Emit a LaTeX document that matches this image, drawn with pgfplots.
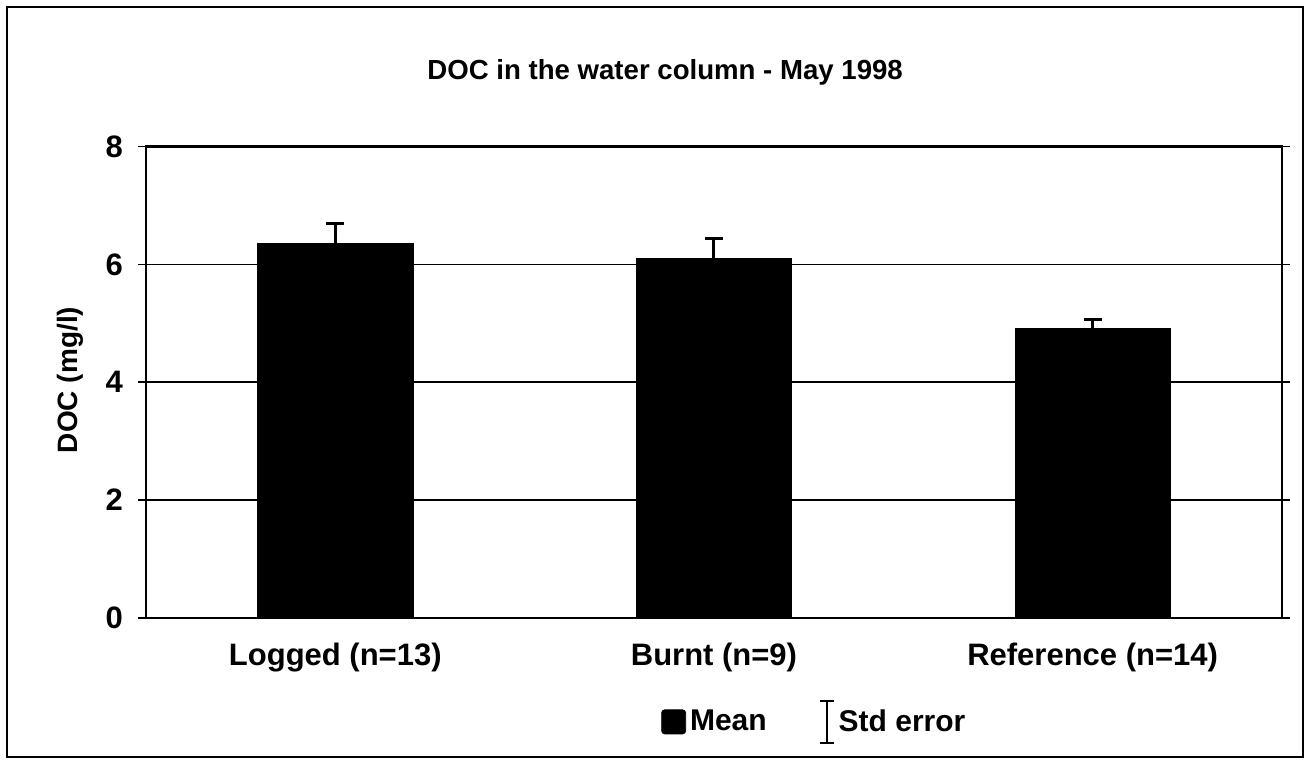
\documentclass[border=0pt]{standalone}
\usepackage{fontspec}
\setmainfont{Liberation Sans}
\usepackage{pgfplots}
\pgfplotsset{compat=1.18}

\pgfplotstableread{
x  y     e
0  6.36  0.33
1  6.10  0.34
2  4.91  0.16
}\doc

\begin{document}
\begin{tikzpicture}
\begin{axis}[
  scale only axis,
  width=568bp, height=235.6bp,
  xmin=-0.5, xmax=2.5,
  ymin=0, ymax=8,
  ytick={0,2,4,6,8},
  xtick={0,1,2},
  xticklabels={Logged (n=13), Burnt (n=9), Reference (n=14)},
  major x tick style={draw=none},
  extra x ticks={0.5,1.5},
  extra x tick labels={},
  extra x tick style={tick align=outside, major tick length=4bp, major tick style={black, line width=0.8bp}},
  ytick align=outside,
  major tick length=4bp,
  tick style={black, line width=0.8bp},
  ymajorgrids,
  major grid style={black, line width=0.8bp},
  axis line style={line width=1.2bp},
  /pgf/number format/assume math mode=true,
  tick label style={font=\fontsize{15.5bp}{18bp}\selectfont\bfseries},
  xticklabel style={yshift=-9bp},
  yticklabel style={xshift=-4bp},
  ylabel={DOC (mg/l)},
  ylabel style={at={(axis description cs:-0.067,0.505)}, anchor=center,
                font=\fontsize{14bp}{17bp}\selectfont\bfseries},
  legend columns=2,
  legend style={draw=none, at={(axis description cs:0.448,-0.2207)}, anchor=west,
                font=\fontsize{15bp}{18bp}\selectfont\bfseries,
                /tikz/every even column/.append style={column sep=24bp}},
  clip=false,
]
\addplot[ybar, bar width=0.41, fill=black, draw=black, forget plot,
  error bars/.cd, y dir=plus, y explicit,
  error bar style={line width=1.5bp},
  error mark options={rotate=90, mark size=4.5bp, line width=1.5bp}]
  table[x=x, y=y, y error=e] {\doc};
\addlegendimage{legend image code/.code={\fill[black, rounded corners=1.5bp] (-1bp,-6bp) rectangle (11bp,6bp);}}
\addlegendentry{Mean}
\addlegendimage{legend image code/.code={
  \draw[line width=1bp] (3bp,-10.5bp) -- (3bp,10.5bp);
  \draw[line width=1bp] (-0.5bp,-10.5bp) -- (6.5bp,-10.5bp);
  \draw[line width=1bp] (-0.5bp,10.5bp) -- (6.5bp,10.5bp);}}
\addlegendentry{Std error}
\node[font=\fontsize{13.8bp}{16bp}\selectfont\bfseries] at (rel axis cs:0.457,1.1585) {DOC in the water column - May 1998};
\draw[line width=1bp] (rel axis cs:-0.1224,-0.2949) rectangle (rel axis cs:1.0185,1.2964);
\path (rel axis cs:-0.1285,-0.3077) rectangle (rel axis cs:1.0238,1.3113);
\end{axis}
\end{tikzpicture}
\end{document}
